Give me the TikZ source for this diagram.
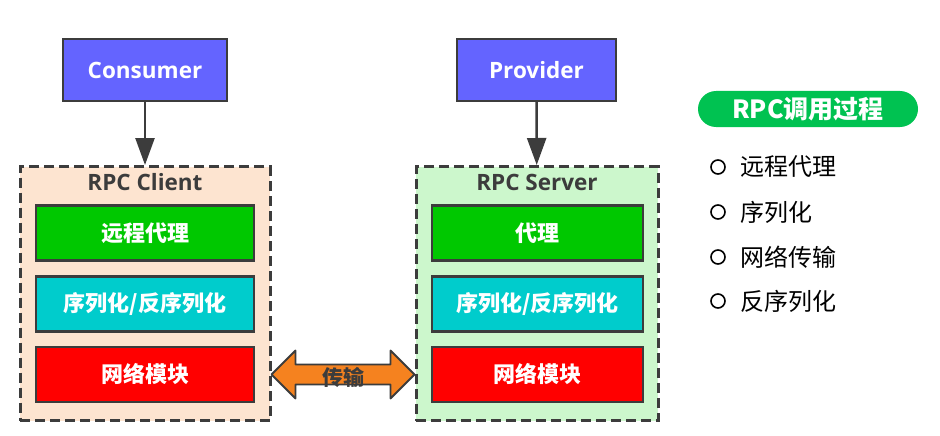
\documentclass[tikz,border=0pt]{standalone}
\usepackage{fontspec}
\setmainfont{Open Sans}
\newfontfamily\cjk{Noto Sans CJK SC}
\usetikzlibrary{arrows.meta,calc}
\definecolor{linegray}{HTML}{3C3C3C}
\definecolor{rolebg}{HTML}{6464FF}
\definecolor{clientbg}{HTML}{FDE4D0}
\definecolor{serverbg}{HTML}{CCF7CC}
\definecolor{proxygreen}{HTML}{00C800}
\definecolor{codeccyan}{HTML}{00CCCC}
\definecolor{netred}{HTML}{FF0000}
\definecolor{transorange}{HTML}{F5821F}
\definecolor{pillgreen}{HTML}{00C251}
\begin{document}
\begin{tikzpicture}[x=1pt,y=-1pt]
\tikzstyle{role}=[draw=linegray, line width=2pt, fill=rolebg, text=white, font=\bfseries\fontsize{22.5}{26}\selectfont, minimum height=62pt]
\tikzstyle{group}=[draw=linegray, line width=3pt, dash pattern=on 10pt off 5pt, minimum height=254pt]
\tikzstyle{layer}=[draw=linegray, line width=2.5pt, minimum height=55pt, text=white, font=\cjk\bfseries\fontsize{22}{25}\selectfont]
\tikzstyle{grouptitle}=[text=linegray, font=\bfseries\fontsize{22.5}{26}\selectfont]
\tikzstyle{bullet}=[circle, draw=black, line width=1.6pt, minimum size=14pt, inner sep=0pt]
\useasboundingbox (0,0) rectangle (940,436);
% callers
\node[role, minimum width=164pt] (consumer) at (145,70) {Consumer};
\node[role, minimum width=159pt] (provider) at (536.5,70) {Provider};
% client / server frames
\node[group, fill=clientbg, minimum width=250pt] (client) at (145,293.5) {};
\node[group, fill=serverbg, minimum width=242pt] (server) at (537,293.5) {};
\node[grouptitle] (clienttitle) at (145,182) {RPC Client};
\node[grouptitle] (servertitle) at (537,182) {RPC Server};
% layers
\node[layer, fill=proxygreen, minimum width=218pt] (proxyC) at (145,233) {远程代理};
\node[layer, fill=codeccyan, minimum width=218pt] (codecC) at (145,304) {序列化/反序列化};
\node[layer, fill=netred, minimum width=218pt] (netC) at (145,374.5) {网络模块};
\node[layer, fill=proxygreen, minimum width=211pt] (proxyS) at (537.5,233) {代理};
\node[layer, fill=codeccyan, minimum width=211pt] (codecS) at (537.5,304) {序列化/反序列化};
\node[layer, fill=netred, minimum width=211pt] (netS) at (537.5,374.5) {网络模块};
% calls
\draw[linegray, line width=2.5pt, -{Triangle[width=19pt,length=27pt]}] (consumer) -- (client);
\draw[linegray, line width=2.5pt, -{Triangle[width=19pt,length=27pt]}] (provider) -- (server);
% transfer arrow
\coordinate (L) at (client.east |- netC.center);
\coordinate (R) at (server.west |- netS.center);
\draw[linegray, line width=1.8pt, fill=transorange, line join=round]
  (L) -- ++(24,-24) -- ++(0,14) -- ($(R)+(-24,-10)$) -- ++(0,-14) -- (R)
  -- ++(-24,24) -- ++(0,-14) -- ($(L)+(24,10)$) -- ++(0,14) -- cycle;
\node[text=linegray, font=\cjk\bfseries\fontsize{21}{24}\selectfont] (trans) at ($(L)!0.5!(R)+(0,3)$) {传输};
% legend
\node[rounded corners=18pt, fill=pillgreen, text=white, minimum width=220pt, minimum height=36pt, font=\cjk\bfseries\fontsize{25}{28}\selectfont] (steps) at (808,109) {RPC调用过程};
\foreach \i/\t/\y in {1/远程代理/167, 2/序列化/212, 3/网络传输/257, 4/反序列化/301}{
  \node[bullet] (dot\i) at (718,\y) {};
  \node[anchor=west, inner sep=0pt, font=\cjk\fontsize{24}{27}\selectfont] (step\i) at (740,\y) {\t};
}
\end{tikzpicture}
\end{document}
